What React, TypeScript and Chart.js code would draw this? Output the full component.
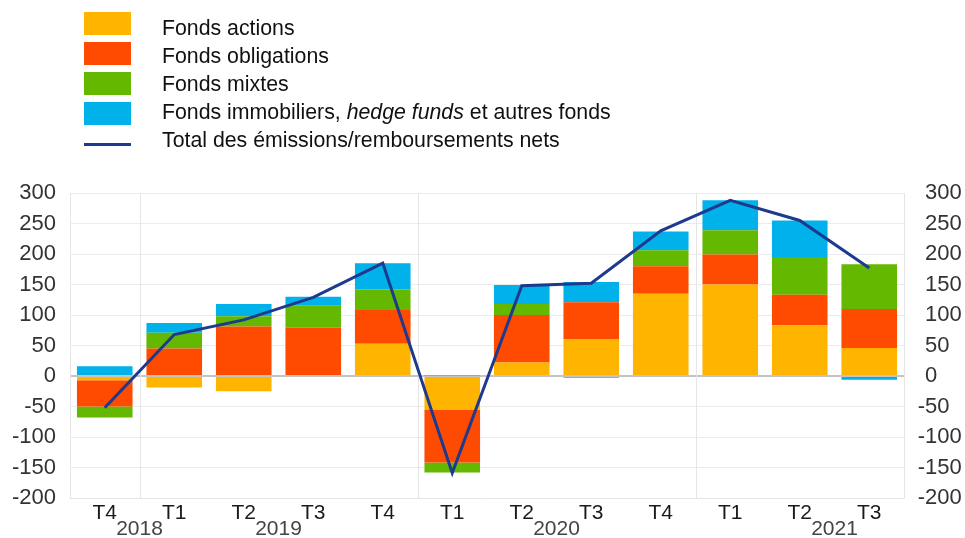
import React, { useEffect, useRef } from 'react';
import { Chart, registerables } from 'chart.js';

Chart.register(...registerables);

// ---- Data ----
const quarters = ['T4', 'T1', 'T2', 'T3', 'T4', 'T1', 'T2', 'T3', 'T4', 'T1', 'T2', 'T3'];
const years = ['2018', '2019', '2020', '2021'];
const yearAnchors = [0.5, 2.5, 6.5, 10.5]; // category index where each year label sits
const yearBoundaries = [0.5, 4.5, 8.5]; // category index between years
const equityFunds = [-7, -19, -25, 0, 53, -55, 22, 60, 135, 150, 83, 46];
const bondFunds = [-43, 45, 81, 79, 55, -87, 78, 61, 45, 49, 50, 64];
const mixedFunds = [-18, 26, 17, 36, 34, -16, 18, -3, 26, 40, 62, 73];
const otherFunds = [16, 16, 20, 15, 43, 1, 31, 33, 31, 49, 60, -6];
const totalNet = [-52, 68, 92, 129, 185, -159, 148, 152, 238, 288, 255, 177];
const yTicksMin = -200;
const yTicksMax = 300;
const yTicksStep = 50;

const COLORS = {
  equity: '#FFB400',
  bond: '#FF4B00',
  mixed: '#65B800',
  other: '#00B1EA',
  total: '#1d3a8f',
};

const FONT = '"Liberation Sans", Arial, Helvetica, sans-serif';

const legendRows = [
  { color: COLORS.equity, label: <>Fonds actions</> },
  { color: COLORS.bond, label: <>Fonds obligations</> },
  { color: COLORS.mixed, label: <>Fonds mixtes</> },
  {
    color: COLORS.other,
    label: (
      <>
        Fonds immobiliers, <i>hedge funds</i> et autres fonds
      </>
    ),
  },
];

const yearPlugin = {
  id: 'yearPlugin',
  beforeDatasetsDraw(chart: any) {
    const { ctx, chartArea, scales } = chart;
    const x = scales.x;
    ctx.save();
    ctx.strokeStyle = '#e6e6e6';
    ctx.lineWidth = 1;
    yearBoundaries.forEach((b) => {
      const px = Math.round(x.getPixelForValue(b)) + 0.5;
      ctx.beginPath();
      ctx.moveTo(px, chartArea.top);
      ctx.lineTo(px, chartArea.bottom);
      ctx.stroke();
    });
    ctx.restore();
  },
  afterDraw(chart: any) {
    const { ctx, scales, chartArea } = chart;
    const x = scales.x;
    const y = scales.y;
    ctx.save();
    ctx.font = `21px ${FONT}`;
    ctx.fillStyle = '#444';
    ctx.textAlign = 'center';
    ctx.textBaseline = 'middle';
    years.forEach((yr, i) => {
      ctx.fillText(yr, x.getPixelForValue(yearAnchors[i]), 529);
    });
    // right-hand axis labels: digits left-aligned, minus sign hanging to the left
    ctx.font = `22px ${FONT}`;
    ctx.fillStyle = '#333';
    const xr = chartArea.right + 21;
    y.ticks.forEach((t: any) => {
      const py = y.getPixelForValue(t.value);
      const v = t.value;
      const digits = String(Math.abs(v));
      ctx.textAlign = 'left';
      ctx.fillText(digits, xr, py);
      if (v < 0) {
        ctx.textAlign = 'right';
        ctx.fillText('-', xr, py);
      }
    });
    ctx.restore();
  },
};

export default function App() {
  const canvasRef = useRef<HTMLCanvasElement>(null);

  useEffect(() => {
    if (!canvasRef.current) return;
    const barCommon = {
      type: 'bar' as const,
      order: 1,
      barPercentage: 0.8,
      categoryPercentage: 1,
      borderWidth: 0,
      yAxisID: 'y',
    };
    const chart = new Chart(canvasRef.current, {
      type: 'bar',
      data: {
        labels: quarters,
        datasets: [
          {
            type: 'line',
            label: 'Total des émissions/remboursements nets',
            data: totalNet,
            borderColor: COLORS.total,
            borderWidth: 3,
            pointRadius: 0,
            tension: 0,
            fill: false,
            order: 0,
            stack: 'line',
            yAxisID: 'y',
          } as any,
          { ...barCommon, label: 'Fonds actions', data: equityFunds, backgroundColor: COLORS.equity },
          { ...barCommon, label: 'Fonds obligations', data: bondFunds, backgroundColor: COLORS.bond },
          { ...barCommon, label: 'Fonds mixtes', data: mixedFunds, backgroundColor: COLORS.mixed },
          { ...barCommon, label: 'Fonds immobiliers, hedge funds et autres fonds', data: otherFunds, backgroundColor: COLORS.other },
        ],
      },
      options: {
        responsive: false,
        animation: false,
        layout: { padding: { top: 193, left: 0, right: 0, bottom: 0 } },
        plugins: {
          legend: { display: false },
          tooltip: { enabled: false },
        },
        scales: {
          x: {
            stacked: true,
            grid: { display: false, drawTicks: false },
            border: { display: true, color: '#e6e6e6' },
            ticks: {
              font: { family: FONT, size: 21 },
              color: '#1a1a1a',
              padding: 3,
              maxRotation: 0,
              autoSkip: false,
            },
            afterFit(scale: any) {
              scale.height = 40;
            },
          },
          y: {
            stacked: true,
            position: 'left',
            min: yTicksMin,
            max: yTicksMax,
            ticks: {
              stepSize: yTicksStep,
              font: { family: FONT, size: 22 },
              color: '#333',
              padding: 14,
            },
            grid: {
              drawTicks: false,
              color: (c: any) => (c.tick && c.tick.value === 0 ? '#c4c4c4' : '#ececec'),
              lineWidth: (c: any) => (c.tick && c.tick.value === 0 ? 2 : 1),
            },
            border: { display: true, color: '#e6e6e6' },
            afterFit(scale: any) {
              scale.width = 70;
            },
          },
          y2: {
            position: 'right',
            min: yTicksMin,
            max: yTicksMax,
            ticks: { display: false, stepSize: yTicksStep },
            grid: { display: false, drawTicks: false },
            border: { display: true, color: '#e6e6e6' },
            afterFit(scale: any) {
              scale.width = 61;
            },
          },
        },
      },
      plugins: [yearPlugin],
    });
    return () => chart.destroy();
  }, []);

  const textTops = [17.7, 46.2, 74.2, 102.2, 129.7];
  const boxTops = [12, 42, 72, 102];

  return (
    <div
      style={{
        position: 'fixed',
        left: 0,
        top: 0,
        width: 965,
        height: 538,
        background: '#fff',
        fontFamily: FONT,
      }}
    >
      <canvas ref={canvasRef} width={965} height={538} style={{ position: 'absolute', left: 0, top: 0, width: 965, height: 538 }} />
      {legendRows.map((row, i) => (
        <React.Fragment key={i}>
          <div
            style={{
              position: 'absolute',
              left: 84,
              top: boxTops[i],
              width: 47,
              height: 23,
              background: row.color,
            }}
          />
          <div
            style={{
              position: 'absolute',
              left: 162,
              top: textTops[i],
              fontSize: 21.3,
              lineHeight: '21px',
              color: '#111',
              whiteSpace: 'nowrap',
            }}
          >
            {row.label}
          </div>
        </React.Fragment>
      ))}
      <div style={{ position: 'absolute', left: 84, top: 142.5, width: 47, height: 3, background: COLORS.total }} />
      <div
        style={{
          position: 'absolute',
          left: 162,
          top: textTops[4],
          fontSize: 21.3,
          lineHeight: '21px',
          color: '#111',
          whiteSpace: 'nowrap',
        }}
      >
        Total des émissions/remboursements nets
      </div>
    </div>
  );
}
